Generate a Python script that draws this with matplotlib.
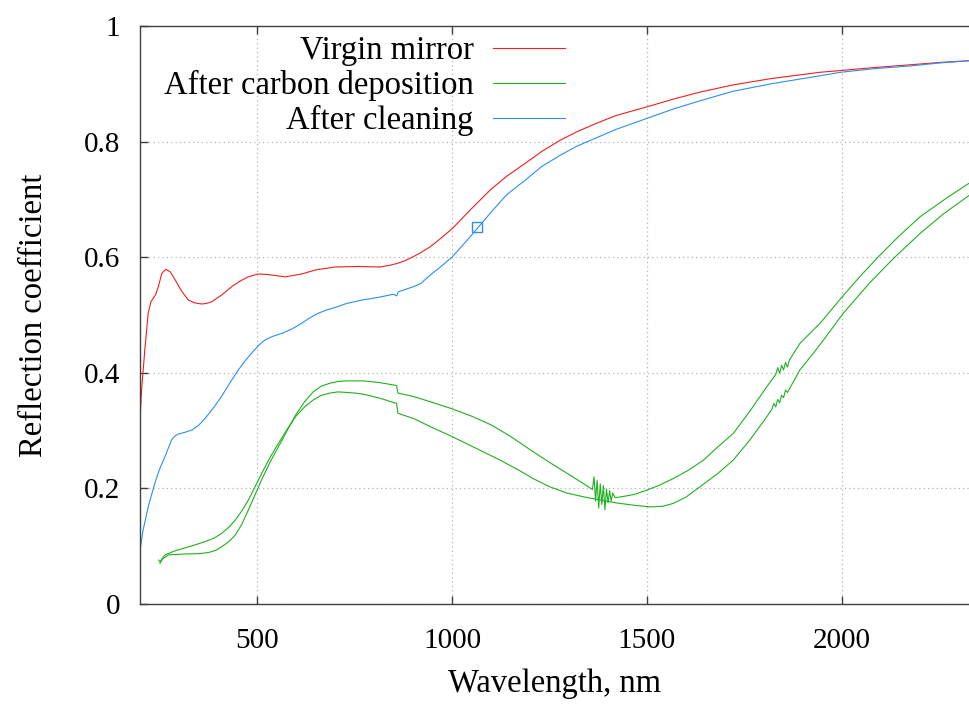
import numpy as np
import matplotlib
matplotlib.use("Agg")
import matplotlib.pyplot as plt

plt.rcParams['font.family'] = ['Liberation Serif', 'DejaVu Serif']

# Virgin mirror
virgin_nm = [200, 204, 213, 221, 228, 240, 247, 256, 266, 277, 290, 300, 307, 324, 340,
             358, 370, 384, 410, 435, 455, 477, 503, 528, 572, 590, 615, 650, 700, 760,
             815, 840, 858, 880, 901, 920, 944, 970, 1000, 1050, 1099, 1140, 1189, 1230,
             1279, 1320, 1368, 1420, 1499, 1570, 1638, 1720, 1818, 1944, 1997, 2080,
             2177, 2250, 2328]
virgin_r = [0.318, 0.370, 0.445, 0.503, 0.523, 0.535, 0.549, 0.572, 0.579, 0.575, 0.561,
            0.549, 0.541, 0.526, 0.521, 0.519, 0.520, 0.523, 0.535, 0.549, 0.558, 0.566,
            0.571, 0.570, 0.566, 0.568, 0.571, 0.578, 0.583, 0.584, 0.583, 0.586, 0.589,
            0.594, 0.601, 0.608, 0.618, 0.632, 0.649, 0.684, 0.717, 0.740, 0.763, 0.783,
            0.803, 0.817, 0.831, 0.845, 0.860, 0.874, 0.886, 0.898, 0.909, 0.920, 0.923,
            0.928, 0.933, 0.937, 0.940]

# After cleaning
cleaned_nm = [200, 208, 221, 238, 250, 264, 281, 290, 298, 315, 333, 350, 367, 390, 409,
              430, 452, 470, 486, 505, 521, 540, 563, 590, 615, 635, 657, 680, 700, 730,
              770, 815, 850, 858, 862, 901, 919, 944, 970, 1000, 1050, 1099, 1140, 1189,
              1230, 1279, 1320, 1368, 1420, 1499, 1570, 1638, 1720, 1818, 1944, 1997,
              2080, 2177, 2250, 2328]
cleaned_r = [0.093, 0.128, 0.168, 0.209, 0.233, 0.255, 0.284, 0.291, 0.294, 0.297, 0.301,
             0.309, 0.321, 0.341, 0.359, 0.382, 0.405, 0.421, 0.434, 0.448, 0.457, 0.463,
             0.468, 0.476, 0.486, 0.495, 0.503, 0.509, 0.513, 0.520, 0.526, 0.531, 0.536,
             0.533, 0.540, 0.549, 0.554, 0.569, 0.583, 0.600, 0.638, 0.677, 0.708, 0.734,
             0.757, 0.777, 0.792, 0.806, 0.821, 0.840, 0.857, 0.871, 0.887, 0.900, 0.914,
             0.920, 0.926, 0.931, 0.936, 0.940]

# After carbon deposition (two measurements)
carbon_a_nm = [248, 251, 264, 290, 315, 340, 367, 390, 409, 428, 444, 461, 478, 495, 512,
               533, 555, 578, 600, 622, 644, 665, 687, 708, 730, 750, 773, 815, 858, 861,
               901, 944, 999, 1072, 1123, 1170, 1208, 1250, 1294, 1340, 1379, 1420, 1465,
               1508, 1540, 1567, 1600, 1636, 1680, 1721, 1765, 1807, 1820, 1825, 1830,
               1835, 1840, 1845, 1850, 1855, 1860, 1892, 1930, 1956, 2003, 2070, 2132,
               2200, 2260, 2328]
carbon_a_r = [0.076, 0.073, 0.085, 0.092, 0.097, 0.102, 0.108, 0.114, 0.122, 0.133, 0.145,
              0.161, 0.180, 0.203, 0.226, 0.253, 0.278, 0.303, 0.325, 0.341, 0.353, 0.361,
              0.365, 0.367, 0.366, 0.365, 0.363, 0.356, 0.347, 0.330, 0.321, 0.307, 0.290,
              0.266, 0.249, 0.232, 0.217, 0.203, 0.192, 0.185, 0.180, 0.175, 0.171, 0.168,
              0.169, 0.174, 0.185, 0.203, 0.225, 0.249, 0.285, 0.324, 0.337, 0.347, 0.341,
              0.354, 0.348, 0.361, 0.357, 0.370, 0.366, 0.405, 0.437, 0.460, 0.503, 0.555,
              0.598, 0.641, 0.675, 0.708]

carbon_b_nm = [251, 258, 273, 315, 350, 375, 395, 409, 428, 444, 461, 478, 495, 512, 533,
               555, 578, 600, 622, 644, 665, 687, 708, 730, 750, 773, 815, 858, 861, 901,
               944, 999, 1050, 1100, 1150, 1200, 1250, 1300, 1340, 1360, 1364, 1368, 1372,
               1376, 1380, 1384, 1388, 1392, 1396, 1400, 1404, 1408, 1412, 1418, 1439,
               1470, 1499, 1530, 1567, 1605, 1645, 1680, 1721, 1765, 1807, 1830, 1835,
               1840, 1845, 1850, 1855, 1860, 1865, 1892, 1944, 2001, 2045, 2089, 2145,
               2200, 2265, 2328]
carbon_b_r = [0.070, 0.078, 0.085, 0.0865, 0.087, 0.089, 0.093, 0.099, 0.108, 0.119, 0.138,
              0.163, 0.189, 0.215, 0.245, 0.272, 0.301, 0.328, 0.350, 0.367, 0.377, 0.382,
              0.385, 0.386, 0.386, 0.386, 0.383, 0.378, 0.365, 0.359, 0.350, 0.338, 0.325,
              0.310, 0.290, 0.267, 0.245, 0.224, 0.207, 0.198, 0.220, 0.178, 0.214, 0.166,
              0.208, 0.172, 0.205, 0.163, 0.199, 0.175, 0.196, 0.178, 0.192, 0.184, 0.186,
              0.190, 0.197, 0.205, 0.217, 0.231, 0.249, 0.271, 0.295, 0.335, 0.376, 0.397,
              0.409, 0.399, 0.413, 0.405, 0.418, 0.410, 0.422, 0.451, 0.486, 0.532, 0.566,
              0.598, 0.636, 0.670, 0.701, 0.729]

marker_nm = [1063]
marker_r = [0.652]

fig = plt.figure(figsize=(9.7, 7.04), dpi=100)
ax = fig.add_axes([140 / 970, 1 - 604 / 704, 830 / 970, 578 / 704])

red = '#f01e1e'
green = '#1fb01f'
blue = '#2b8ff0'

ax.plot(virgin_nm, virgin_r, color=red, lw=0.8, label='Virgin mirror')
ax.plot(carbon_a_nm, carbon_a_r, color=green, lw=0.8, label='After carbon deposition')
ax.plot(carbon_b_nm, carbon_b_r, color=green, lw=0.8, label='_nolegend_')
ax.plot(cleaned_nm, cleaned_r, color=blue, lw=0.8, label='After cleaning')
ax.plot(marker_nm, marker_r, 's', ms=7, mfc='none', mec=blue, mew=1.0)

ax.set_xlim(200, 2328)
ax.set_ylim(0, 1)
ax.set_xticks([500, 1000, 1500, 2000])
ax.set_yticks([0, 0.2, 0.4, 0.6, 0.8, 1])
ax.set_yticklabels(['0', '0.2', '0.4', '0.6', '0.8', '1'])
ax.grid(True, color='#b4b4b4', linestyle=(0, (1, 2.5)), linewidth=0.9)
ax.tick_params(direction='in', length=6, width=1, colors='#404040', labelcolor='black',
               labelsize=21, top=True, right=False)
ax.tick_params(axis='x', pad=17)
ax.tick_params(axis='y', pad=14)
for s in ['left', 'bottom', 'top']:
    ax.spines[s].set_color('#404040')
    ax.spines[s].set_linewidth(1.0)
ax.spines['right'].set_visible(False)

ax.set_xlabel('Wavelength, nm', fontsize=23.5, labelpad=11)
ax.set_ylabel('Reflection coefficient', fontsize=23.5, labelpad=25)

ax.legend(loc='upper right', bbox_to_anchor=(565 / 970, 1 - 36 / 704),
          bbox_transform=fig.transFigure, markerfirst=False, frameon=False,
          fontsize=23.5, handlelength=2.2, handletextpad=0.6, labelspacing=0.12,
          borderaxespad=0, borderpad=0)

fig.savefig('out.png', dpi=100)
